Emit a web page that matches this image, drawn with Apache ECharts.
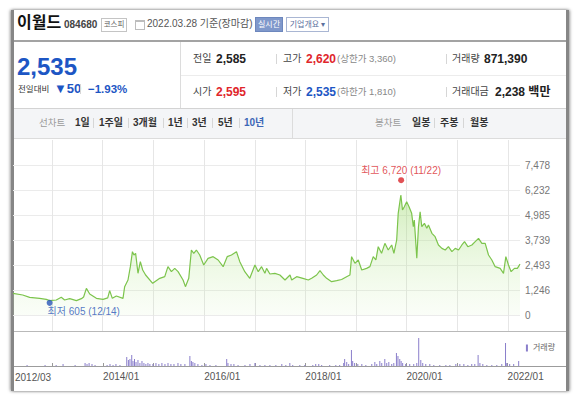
<!DOCTYPE html>
<html>
<head>
<meta charset="utf-8">
<script src="https://cdn.jsdelivr.net/npm/echarts@6/dist/echarts.min.js"></script>
<style>
body { margin: 0; width: 580px; height: 398px; background: #fff; position: relative; overflow: hidden;
  font-family: "Liberation Sans", "Noto Sans CJK KR", sans-serif; color: #333; }
.a { position: absolute; white-space: nowrap; }
#frame { position: absolute; left: 11px; top: 10px; width: 552px; height: 381px;
  border-left: 3px solid #868686; border-right: 3px solid #868686;
  box-shadow: -1px 0 3px rgba(0,0,0,0.35), 1px 0 3px rgba(0,0,0,0.35); }
.hl { position: absolute; left: 14px; width: 552px; }
.lbl { font-size: 10px; color: #444; line-height: 14px; }
.val { font-size: 12px; font-weight: bold; color: #222; line-height: 14px; }
.sub { font-size: 9.5px; color: #888; line-height: 14px; }
.sep { position: absolute; width: 1px; height: 10px; background: #d6d6d6; }
.tab { font-size: 10px; font-weight: bold; color: #333; line-height: 14px; }
.tabg { font-size: 9.5px; color: #9a9a9a; line-height: 14px; }
#chart { position: absolute; left: 13px; top: 138px; width: 553px; height: 252px; }
</style>
</head>
<body>
<div id="frame"></div>

<!-- title row -->
<div class="a" style="left:17px;top:13px;font-size:16px;font-weight:bold;color:#111;line-height:20px">이월드</div>
<div class="a" style="left:64px;top:19px;font-size:10px;font-weight:bold;color:#444;line-height:12px">084680</div>
<div class="a" style="left:101px;top:18px;width:24px;height:12px;border:1px solid #c4c4c4;font-size:7.5px;color:#666;text-align:center;line-height:12px">코스피</div>
<div class="a" style="left:135px;top:20px;width:8px;height:7px;border:1px solid #bdbdbd;border-top:2px solid #bdbdbd"></div>
<div class="a" style="left:147px;top:17px;font-size:10px;color:#555;line-height:14px">2022.03.28 기준(장마감)</div>
<div class="a" style="left:255px;top:17px;width:26px;height:13px;background:#7f98cb;border:1px solid #6d87bd;color:#fff;font-size:8px;text-align:center;line-height:13px">실시간</div>
<div class="a" style="left:286px;top:17px;width:41px;height:13px;border:1px solid #a9b6d3;color:#5b709e;font-size:8px;text-align:center;line-height:13px">기업개요 ▾</div>
<div class="hl" style="top:40px;height:2px;background:#a3a3a3"></div>

<!-- current price block -->
<div class="a" style="left:17px;top:53px;font-size:24px;font-weight:bold;color:#1d56c4;line-height:27px">2,535</div>
<div class="a" style="left:18px;top:83px;font-size:8.5px;color:#333;line-height:12px">전일대비</div>
<div class="a" style="left:54px;top:81px;font-size:13px;font-weight:bold;color:#1d56c4;line-height:16px">▼50</div>
<div class="sep" style="left:80px;top:84px"></div>
<div class="a" style="left:88px;top:81px;font-size:11.5px;font-weight:bold;color:#1d56c4;line-height:16px">−1.93%</div>
<div class="a" style="left:180px;top:42px;width:1px;height:66px;background:#dcdcdc"></div>
<div class="a" style="left:181px;top:75px;width:385px;height:1px;background:#ececec"></div>

<!-- quote table -->
<div class="a lbl" style="left:193px;top:52px">전일</div>
<div class="a val" style="left:216px;top:52px">2,585</div>
<div class="sep" style="left:276px;top:54px"></div>
<div class="a lbl" style="left:283px;top:52px">고가</div>
<div class="a val" style="left:306px;top:52px;color:#e0262b">2,620</div>
<div class="a sub" style="left:337px;top:52px">(상한가 3,360)</div>
<div class="sep" style="left:446px;top:54px"></div>
<div class="a lbl" style="left:452px;top:52px">거래량</div>
<div class="a val" style="left:484px;top:52px">871,390</div>

<div class="a lbl" style="left:193px;top:85px">시가</div>
<div class="a val" style="left:216px;top:85px;color:#e0262b">2,595</div>
<div class="sep" style="left:276px;top:87px"></div>
<div class="a lbl" style="left:283px;top:85px">저가</div>
<div class="a val" style="left:306px;top:85px;color:#1d56c4">2,535</div>
<div class="a sub" style="left:337px;top:85px">(하한가 1,810)</div>
<div class="sep" style="left:446px;top:87px"></div>
<div class="a lbl" style="left:452px;top:85px">거래대금</div>
<div class="a val" style="left:495px;top:85px">2,238 백만</div>

<!-- period tabs -->
<div class="hl" style="top:108px;height:29px;background:#f4f5f7;border-top:1px solid #d3d3d3;border-bottom:1px solid #dcdcdc"></div>
<div class="a tabg" style="left:39px;top:116px">선차트</div>
<div class="a tab" style="left:75px;top:116px">1일</div>
<div class="sep" style="left:93px;top:118px"></div>
<div class="a tab" style="left:99px;top:116px">1주일</div>
<div class="sep" style="left:128px;top:118px"></div>
<div class="a tab" style="left:133px;top:116px">3개월</div>
<div class="sep" style="left:163px;top:118px"></div>
<div class="a tab" style="left:168px;top:116px">1년</div>
<div class="sep" style="left:187px;top:118px"></div>
<div class="a tab" style="left:192px;top:116px">3년</div>
<div class="sep" style="left:212px;top:118px"></div>
<div class="a tab" style="left:218px;top:116px">5년</div>
<div class="sep" style="left:239px;top:118px"></div>
<div class="a tab" style="left:244px;top:116px;color:#3c66b6">10년</div>
<div class="a" style="left:292px;top:109px;width:1px;height:29px;background:#dcdcdc"></div>
<div class="a tabg" style="left:375px;top:116px">봉차트</div>
<div class="a tab" style="left:412px;top:116px">일봉</div>
<div class="sep" style="left:434px;top:118px"></div>
<div class="a tab" style="left:440px;top:116px">주봉</div>
<div class="sep" style="left:463px;top:118px"></div>
<div class="a tab" style="left:470px;top:116px">월봉</div>

<div class="hl" style="top:331px;height:1px;background:#b9b9b9"></div>
<div class="hl" style="top:366px;height:1px;background:#9c9c9c"></div>

<div id="chart"></div>

<script>
// 종가 (원)
const priceDates = [
  '2012-03-25', '2012-06-03', '2012-07-23', '2012-10-03', '2012-11-20', '2012-12-14', '2013-01-31', '2013-03-08',
  '2013-04-01', '2013-05-08', '2013-06-25', '2013-07-31', '2013-08-16', '2013-09-05', '2013-09-29', '2013-11-16',
  '2014-01-03', '2014-02-06', '2014-02-20', '2014-03-11', '2014-04-09', '2014-05-27', '2014-06-08', '2014-07-02',
  '2014-07-19', '2014-08-03', '2014-08-14', '2014-08-26', '2014-09-12', '2014-09-29', '2014-10-16', '2014-11-06',
  '2014-12-27', '2015-02-16', '2015-03-24', '2015-04-16', '2015-05-11', '2015-06-04', '2015-06-28', '2015-08-03',
  '2015-08-20', '2015-09-13', '2015-10-02', '2015-10-19', '2015-11-07', '2015-12-01', '2015-12-30', '2016-01-30',
  '2016-03-07', '2016-04-12', '2016-05-18', '2016-06-16', '2016-07-17', '2016-08-22', '2016-09-15', '2016-10-21',
  '2016-11-26', '2017-01-02', '2017-01-26', '2017-02-19', '2017-03-15', '2017-03-27', '2017-04-20', '2017-05-26',
  '2017-07-01', '2017-08-07', '2017-09-12', '2017-09-24', '2017-10-30', '2017-12-14', '2018-01-22', '2018-02-15',
  '2018-03-23', '2018-04-16', '2018-05-10', '2018-06-03', '2018-07-09', '2018-08-14', '2018-09-19', '2018-10-25',
  '2018-11-18', '2018-11-30', '2018-12-24', '2019-01-17', '2019-02-11', '2019-03-18', '2019-04-11', '2019-05-05',
  '2019-05-24', '2019-06-10', '2019-07-04', '2019-07-28', '2019-08-21', '2019-09-15', '2019-10-01', '2019-10-21',
  '2019-11-01', '2019-11-20', '2019-12-02', '2019-12-15', '2020-01-01', '2020-01-18', '2020-02-06', '2020-02-18',
  '2020-02-25', '2020-03-14', '2020-03-26', '2020-04-07', '2020-04-19', '2020-05-08', '2020-05-25', '2020-06-06',
  '2020-07-01', '2020-07-24', '2020-08-17', '2020-09-11', '2020-10-05', '2020-10-28', '2020-11-22', '2020-12-16',
  '2021-01-09', '2021-02-02', '2021-02-21', '2021-03-17', '2021-04-15', '2021-05-09', '2021-06-02', '2021-06-26',
  '2021-07-20', '2021-08-13', '2021-09-06', '2021-09-30', '2021-11-05', '2021-11-29', '2021-12-16', '2022-01-04',
  '2022-01-23', '2022-02-16', '2022-03-09', '2022-03-28'
]
const priceValues = [
  1082, 997, 881, 831, 781, 714, 748, 881,
  748, 815, 714, 815, 900, 1330, 1047, 831,
  781, 850, 1213, 831, 947, 831, 1413, 1745,
  2410, 3157, 2991, 3074, 2080, 2659, 2243, 1994,
  1579, 1828, 1911, 2410, 2160, 2326, 2160, 1745,
  1413, 1828, 3240, 3074, 3240, 2991, 2493, 2825,
  2908, 2742, 2410, 2908, 2991, 3157, 2659, 2160,
  1828, 2493, 2160, 2410, 2077, 2326, 2044, 2077,
  1994, 1745, 1994, 1745, 1911, 1828, 1745, 1828,
  1994, 2210, 1994, 1828, 1662, 1711, 1770, 1911,
  1994, 2908, 2575, 2742, 2243, 2326, 2410, 2908,
  2742, 3406, 3074, 3573, 3240, 3490, 3074, 3739,
  5070, 5982, 5234, 5400, 5649, 5400, 5070, 4402,
  4736, 2825, 4402, 5150, 4402, 4570, 4320, 4486,
  4071, 3905, 3490, 3323, 3240, 3406, 3157, 3323,
  3240, 3490, 3656, 3406, 3490, 3656, 3822, 3573,
  3573, 2991, 2742, 2410, 2326, 2077, 2908, 2493,
  2160, 2326, 2326, 2535
]

// 거래량 (천주)
const volDates = [
  '2012-07-01', '2012-11-08', '2013-01-27', '2013-03-18', '2013-06-13', '2013-08-24', '2013-09-07', '2013-09-22',
  '2013-10-13', '2013-11-04', '2014-01-30', '2014-02-20', '2014-03-14', '2014-04-04', '2014-05-03', '2014-06-21',
  '2014-07-03', '2014-07-14', '2014-07-27', '2014-08-05', '2014-08-16', '2014-08-27', '2014-09-10', '2014-09-24',
  '2014-10-09', '2014-10-23', '2014-11-06', '2014-11-21', '2014-12-05', '2014-12-27', '2015-01-18', '2015-02-08',
  '2015-03-02', '2015-03-24', '2015-04-15', '2015-05-06', '2015-05-28', '2015-06-26', '2015-07-17', '2015-08-15',
  '2015-09-20', '2015-10-01', '2015-10-12', '2015-10-26', '2015-11-17', '2015-12-16', '2016-01-14', '2016-02-12',
  '2016-03-26', '2016-06-12', '2016-06-21', '2016-07-13', '2016-08-03', '2016-09-02', '2016-10-22', '2016-11-27',
  '2017-01-02', '2017-02-07', '2017-03-15', '2017-04-20', '2017-06-02', '2017-07-15', '2017-08-13', '2017-09-11',
  '2017-10-02', '2017-11-22', '2017-12-28', '2018-02-24', '2018-03-17', '2018-04-08', '2018-04-29', '2018-06-26',
  '2018-08-09', '2018-09-06', '2018-10-05', '2018-10-12', '2018-10-27', '2018-11-10', '2018-11-30', '2018-12-09',
  '2018-12-23', '2019-01-15', '2019-02-13', '2019-03-14', '2019-04-26', '2019-05-18', '2019-06-01', '2019-06-23',
  '2019-07-07', '2019-07-29', '2019-08-12', '2019-08-27', '2019-09-17', '2019-10-02', '2019-10-21', '2019-11-01',
  '2019-11-14', '2019-11-24', '2019-12-05', '2019-12-27', '2020-01-25', '2020-02-23', '2020-03-16', '2020-03-30',
  '2020-04-14', '2020-04-28', '2020-05-20', '2020-06-18', '2020-07-17', '2020-08-29', '2020-10-12', '2020-11-10',
  '2020-12-23', '2021-01-21', '2021-02-19', '2021-03-20', '2021-04-17', '2021-05-09', '2021-06-02', '2021-06-15',
  '2021-07-06', '2021-08-04', '2021-09-09', '2021-10-15', '2021-11-20', '2021-12-17', '2021-12-26', '2022-01-16',
  '2022-02-14', '2022-03-22'
]
const volValues = [
  175, 175, 175, 350, 175, 525, 350, 525,
  350, 175, 175, 350, 175, 350, 175, 1575,
  1050, 1225, 1925, 875, 1225, 700, 1050, 525,
  875, 525, 350, 525, 350, 350, 525, 350,
  525, 350, 525, 350, 350, 525, 350, 350,
  1750, 875, 700, 525, 350, 175, 350, 175,
  175, 1225, 525, 350, 350, 175, 175, 350,
  525, 175, 175, 175, 175, 350, 175, 525,
  175, 175, 175, 175, 350, 350, 175, 175,
  175, 175, 525, 1225, 700, 350, 2800, 875,
  525, 350, 350, 175, 350, 700, 350, 875,
  525, 1225, 525, 700, 350, 525, 2275, 1750,
  1225, 875, 525, 350, 350, 350, 525, 4900,
  1050, 525, 350, 350, 175, 175, 175, 175,
  350, 350, 350, 175, 350, 350, 1925, 525,
  350, 175, 175, 175, 350, 4025, 525, 350,
  350, 875
]

const yTicks = [0, 1246, 2493, 3739, 4985, 6232, 7478]
const xLabels = ['2012/03', '2014/01', '2016/01', '2018/01', '2020/01', '2022/01']
const yearLines = ['2013-01-01', '2014-01-01', '2015-01-01', '2016-01-01', '2017-01-01',
  '2018-01-01', '2019-01-01', '2020-01-01', '2021-01-01', '2022-01-01']
const highPoint = { date: '2019-11-22', value: 6720, text: '11/22' }
const lowPoint = { date: '2012-12-14', value: 605, text: '12/14' }

const startDate = '2012-03-25'
const endDate = '2022-03-28'
const fontFamily = '"Liberation Sans", "Noto Sans CJK KR", sans-serif'
const YEAR = 365 * 24 * 3600 * 1000

function comma(n) {
  return String(Math.round(n)).replace(/\B(?=(\d{3})+(?!\d))/g, ',')
}

const timeAxis = {
  type: 'time',
  min: startDate,
  max: endDate,
  splitNumber: 10,
  minInterval: YEAR,
  maxInterval: YEAR + 2 * 24 * 3600 * 1000,
}

let chartDom = echarts.init(document.getElementById('chart'), null, { renderer: 'svg' })
let option = {
  animation: false,
  textStyle: { fontFamily: fontFamily },
  grid: [
    { left: 0, top: 2, width: 507, height: 191 },
    { left: 0, top: 27, width: 507, height: 150 },
    { left: 0, top: 195, width: 507, height: 33 },
  ],
  legend: {
    data: ['거래량'],
    right: 6,
    top: 201,
    icon: 'rect',
    itemWidth: 2,
    itemHeight: 7,
    itemGap: 3,
    selectedMode: false,
    textStyle: { fontSize: 8, color: '#666', fontFamily: fontFamily },
  },
  // 첫 날짜 라벨 (시간축 틱이 시작일에 없으므로 따로 표시)
  graphic: [
    {
      type: 'text',
      left: 2,
      top: 234,
      style: { text: xLabels[0], fontSize: 10, fill: '#555', fontFamily: fontFamily },
    },
  ],
  xAxis: [
    Object.assign({}, timeAxis, { gridIndex: 0, show: false }),
    Object.assign({}, timeAxis, { gridIndex: 1, show: false }),
    Object.assign({}, timeAxis, {
      gridIndex: 2,
      axisLine: { show: false },
      axisTick: { show: true, inside: true, length: 3, lineStyle: { color: '#999' } },
      splitLine: { show: false },
      axisLabel: {
        show: true,
        margin: 5,
        fontSize: 10,
        color: '#555',
        align: 'left',
        formatter: function (value) {
          const d = new Date(value)
          const s = d.getFullYear() + '/01'
          if (d.getMonth() === 0 && d.getDate() === 1 && xLabels.indexOf(s) > 0) return s
          return ''
        },
      },
    }),
  ],
  yAxis: [
    { gridIndex: 0, type: 'value', min: 0, max: 1, show: false },
    {
      gridIndex: 1,
      type: 'value',
      position: 'right',
      min: yTicks[0],
      max: yTicks[yTicks.length - 1],
      interval: (yTicks[yTicks.length - 1] - yTicks[0]) / (yTicks.length - 1),
      axisLine: { show: false },
      axisTick: { show: false },
      axisLabel: {
        margin: 5,
        fontSize: 10,
        color: '#777',
        formatter: function (v) { return comma(v) },
      },
      splitLine: { show: true, lineStyle: { color: '#ebebeb' } },
    },
    { gridIndex: 2, type: 'value', min: 0, max: 5775, show: false },
  ],
  series: [
    {
      // 연도 세로 격자선 (차트 전체 높이)
      name: 'yearGrid',
      type: 'line',
      xAxisIndex: 0,
      yAxisIndex: 0,
      z: 0,
      data: [[startDate, 0]],
      showSymbol: false,
      silent: true,
      lineStyle: { opacity: 0 },
      markLine: {
        silent: true,
        symbol: 'none',
        z: 0,
        label: { show: false },
        lineStyle: { color: '#e6e6e6', type: 'solid', width: 1 },
        data: yearLines.map((d) => ({ xAxis: d })),
      },
    },
    {
      name: '종가',
      type: 'line',
      xAxisIndex: 1,
      yAxisIndex: 1,
      z: 2,
      data: priceDates.map((d, i) => [d, priceValues[i]]),
      showSymbol: false,
      lineStyle: { color: '#7cc44c', width: 1.2 },
      areaStyle: {
        color: new echarts.graphic.LinearGradient(0, 0, 0, 1, [
          { offset: 0, color: 'rgba(150,214,100,0.62)' },
          { offset: 1, color: 'rgba(200,238,170,0.12)' },
        ]),
      },
    },
    {
      name: '최고',
      type: 'scatter',
      xAxisIndex: 1,
      yAxisIndex: 1,
      z: 3,
      data: [[highPoint.date, highPoint.value]],
      symbolSize: 6,
      itemStyle: { color: '#d9262b' },
      label: {
        show: true,
        position: 'top',
        distance: 2,
        fontSize: 10,
        color: '#d9262b',
        backgroundColor: '#fff',
        formatter: () => '최고 ' + comma(highPoint.value) + ' (' + highPoint.text + ')',
      },
    },
    {
      name: '최저',
      type: 'scatter',
      xAxisIndex: 1,
      yAxisIndex: 1,
      z: 3,
      data: [[lowPoint.date, lowPoint.value]],
      symbolSize: 6,
      itemStyle: { color: '#2955b8' },
      label: {
        show: true,
        position: 'bottom',
        distance: 1,
        align: 'left',
        offset: [-2, 0],
        fontSize: 10,
        color: '#2955b8',
        formatter: () => '최저 ' + comma(lowPoint.value) + ' (' + lowPoint.text + ')',
      },
    },
    {
      name: '거래량',
      type: 'bar',
      xAxisIndex: 2,
      yAxisIndex: 2,
      data: volDates.map((d, i) => [d, volValues[i]]),
      barWidth: 1,
      itemStyle: { color: '#8a7ecb' },
    },
  ],
}
chartDom.setOption(option)
</script>
</body>
</html>
